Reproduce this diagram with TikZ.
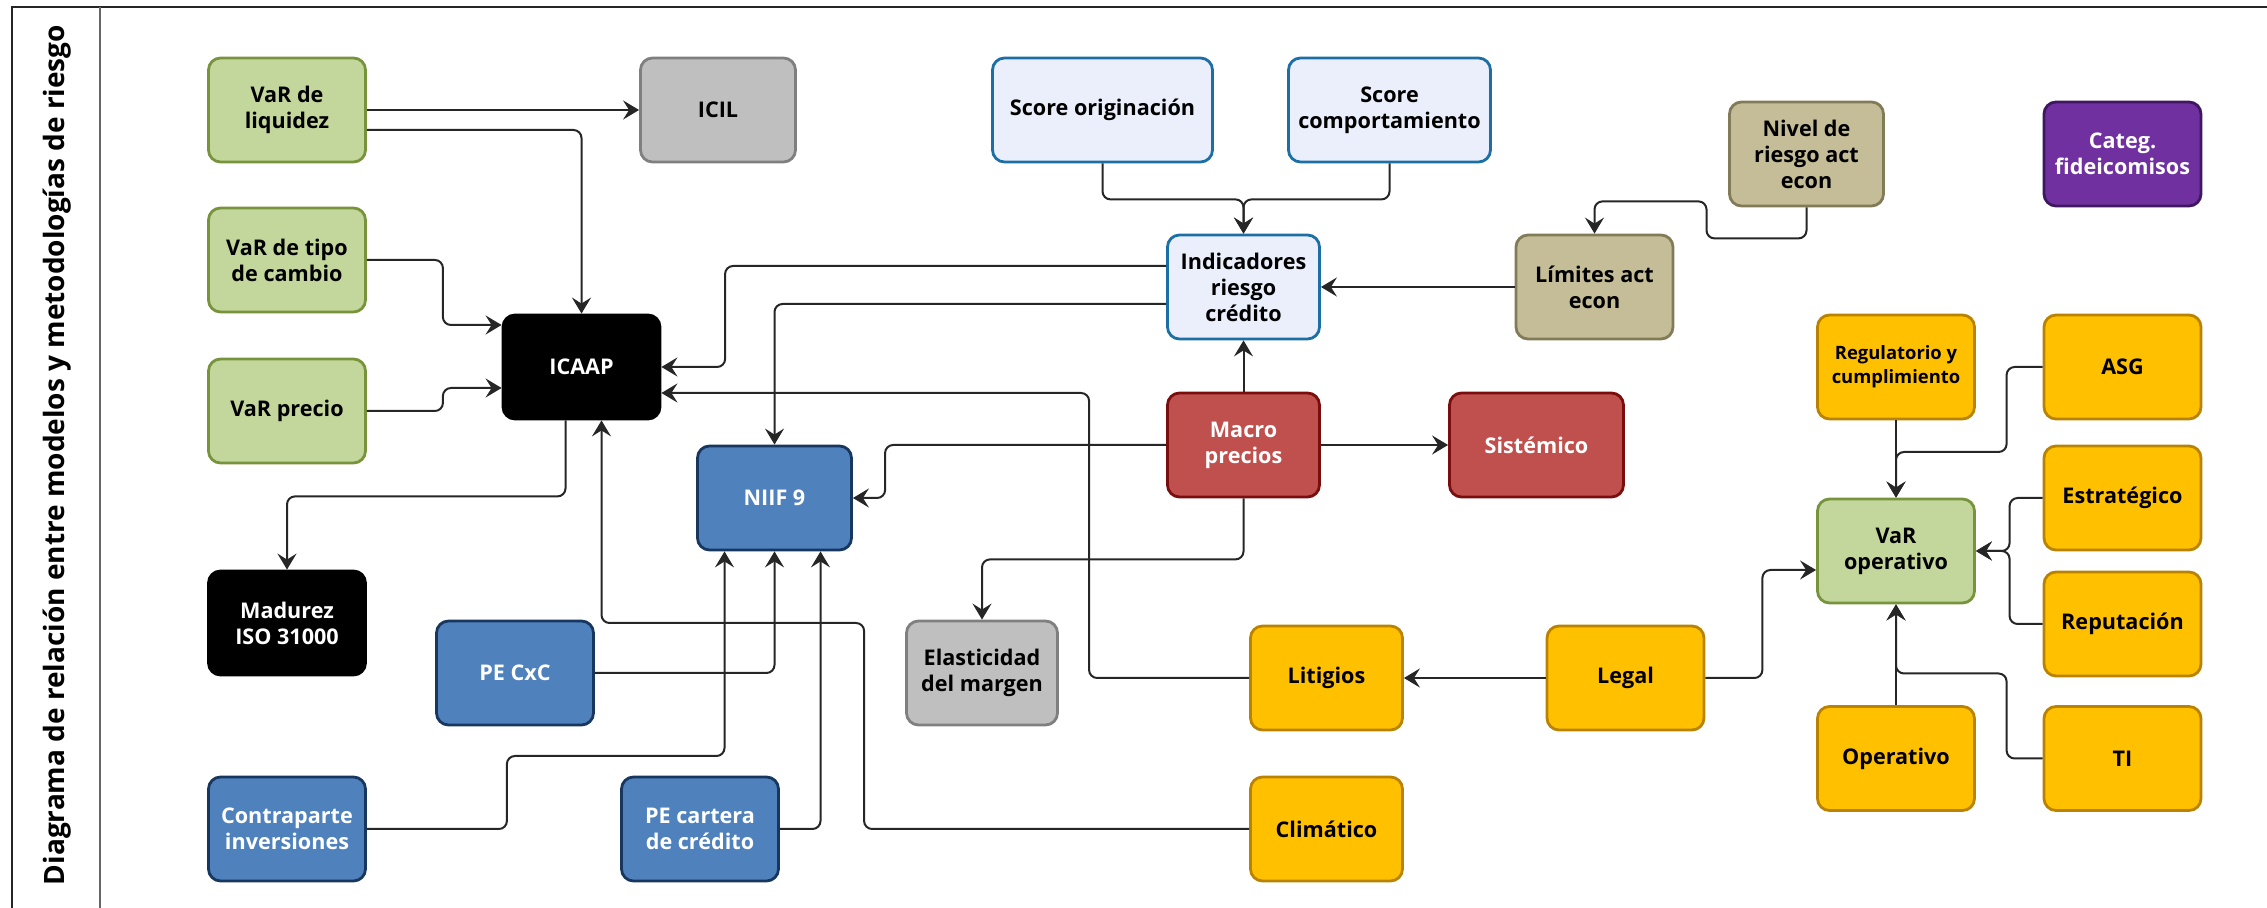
\documentclass[tikz,border=0pt]{standalone}
\usepackage{fontspec}
\setmainfont{Open Sans}
\usetikzlibrary{arrows.meta}
\definecolor{grnfill}{HTML}{C3D69B}
\definecolor{grnline}{HTML}{77933C}
\definecolor{gryfill}{HTML}{BFBFBF}
\definecolor{gryline}{HTML}{7F7F7F}
\definecolor{lblfill}{HTML}{EBEFFC}
\definecolor{lblline}{HTML}{1B6FA4}
\definecolor{tanfill}{HTML}{C4BD97}
\definecolor{tanline}{HTML}{817B58}
\definecolor{purfill}{HTML}{7030A0}
\definecolor{purline}{HTML}{3F1760}
\definecolor{blufill}{HTML}{4F81BD}
\definecolor{bluline}{HTML}{17375E}
\definecolor{redfill}{HTML}{C0504D}
\definecolor{redline}{HTML}{7A0E0E}
\definecolor{yelfill}{HTML}{FFC000}
\definecolor{yelline}{HTML}{B98300}
\tikzstyle{box}=[draw, rounded corners=6pt, line width=1.4pt, minimum width=78.5pt, minimum height=52pt, align=center, inner sep=2pt, font=\bfseries\fontsize{10.8}{13}\selectfont]
\tikzstyle{varbox}=[box, fill=grnfill, draw=grnline]
\tikzstyle{grybox}=[box, fill=gryfill, draw=gryline]
\tikzstyle{blkbox}=[box, fill=black, draw=black, text=white]
\tikzstyle{scorebox}=[box, fill=lblfill, draw=lblline]
\tikzstyle{tanbox}=[box, fill=tanfill, draw=tanline]
\tikzstyle{purbox}=[box, fill=purfill, draw=purline, text=white]
\tikzstyle{niifbox}=[box, fill=blufill, draw=bluline, text=white]
\tikzstyle{macbox}=[box, fill=redfill, draw=redline, text=white]
\tikzstyle{yelbox}=[box, fill=yelfill, draw=yelline]
\tikzstyle{wire}=[-{Stealth[length=8pt, width=9.5pt, inset=3pt]}, line width=1pt, draw=black!85, rounded corners=4pt]

\begin{document}
\begin{tikzpicture}[x=0.5pt, y=-0.5pt]
    \useasboundingbox (0,0) rectangle (2267,908);
    \draw [line width=1pt, black!85] (2267,7) -- (12,7) -- (12,908);
    \draw [line width=1pt, black!60] (100,7) -- (100,908);
    \node [rotate=90, font=\bfseries\fontsize{14}{16}\selectfont] (ttl) at (57,455) {Diagrama de relación entre modelos y metodologías de riesgo};

    % mercado y liquidez
    \node [varbox] (liq) at (287,110) {VaR de\\liquidez};
    \node [grybox, minimum width=77.5pt] (icil) at (718,110) {ICIL};
    \node [varbox] (fx) at (287,260) {VaR de tipo\\de cambio};
    \node [varbox] (prc) at (287,411) {VaR precio};
    \node [blkbox] (icaap) at (581.5,367) {ICAAP};
    \node [blkbox] (mad) at (287,623) {Madurez\\ISO 31000};

    % credito
    \node [niifbox, minimum width=77pt] (niif) at (774.5,498) {NIIF 9};
    \node [niifbox] (pecxc) at (515,673) {PE CxC};
    \node [niifbox] (cont) at (287,829) {Contraparte\\inversiones};
    \node [niifbox] (pecart) at (700,829) {PE cartera\\de crédito};
    \node [scorebox, minimum width=110pt] (so) at (1102.5,110) {Score originación};
    \node [scorebox, minimum width=101pt] (sc) at (1389.5,110) {Score\\comportamiento};
    \node [scorebox, minimum width=76pt] (ind) at (1243.5,287) {Indicadores\\riesgo\\crédito};
    \node [tanbox, minimum width=77pt] (niv) at (1806.5,154) {Nivel de\\riesgo act\\econ};
    \node [tanbox] (lim) at (1594.5,287) {Límites act\\econ};
    \node [purbox] (cat) at (2122.5,154) {Categ.\\fideicomisos};

    % macro
    \node [macbox, minimum width=76pt] (mac) at (1243.5,445) {Macro\\precios};
    \node [macbox, minimum width=87pt] (sis) at (1536.5,445) {Sistémico};
    \node [grybox, minimum width=75.5pt] (elas) at (982,673) {Elasticidad\\del margen};

    % operativo
    \node [yelbox, minimum width=76pt] (lit) at (1326.5,678) {Litigios};
    \node [yelbox, minimum width=76pt] (clim) at (1326.5,829) {Climático};
    \node [yelbox] (leg) at (1625.5,678) {Legal};
    \node [yelbox, font=\bfseries\fontsize{9.2}{12}\selectfont] (reg) at (1896,367) {Regulatorio y\\cumplimiento};
    \node [yelbox] (asg) at (2122.5,367) {ASG};
    \node [yelbox] (est) at (2122.5,498) {Estratégico};
    \node [varbox] (varop) at (1896,551) {VaR\\operativo};
    \node [yelbox] (rep) at (2122.5,624) {Reputación};
    \node [yelbox] (oper) at (1896,758.5) {Operativo};
    \node [yelbox] (ti) at (2122.5,758.5) {TI};

    \draw [wire] (liq.east) -- (icil.west);
    \draw [wire] ([yshift=-10pt]liq.east) -| (icaap.north);
    \draw [wire] (fx.east) -- ++(76,0) |- ([yshift=21pt]icaap.west);
    \draw [wire] (prc.east) -- ++(76,0) |- ([yshift=-10.5pt]icaap.west);
    \draw [wire] ([xshift=-8pt]icaap.south) -- ++(0,76) -| (mad.north);
    \draw [wire] ([yshift=10.5pt]ind.west) -- ++(-441,0) |- (icaap.east);
    \draw [wire] ([yshift=-8.5pt]ind.west) -| (niif.north);
    \draw [wire] (lit.west) -- ++(-160,0) |- ([yshift=-13pt]icaap.east);
    \draw [wire] (clim.west) -- ++(-385,0) -- ++(0,-206) -| ([xshift=10pt]icaap.south);
    \draw [wire] (mac.north) -- (ind.south);
    \draw [wire] (mac.west) -- ++(-281,0) |- (niif.east);
    \draw [wire] (mac.east) -- (sis.west);
    \draw [wire] (mac.south) -- ++(0,61) -| (elas.north);
    \draw [wire] (pecxc.east) -| (niif.south);
    \draw [wire] (cont.east) -- ++(140,0) -- ++(0,-73) -| ([xshift=-25pt]niif.south);
    \draw [wire] (pecart.east) -| ([xshift=23pt]niif.south);
    \draw [wire] (so.south) -- ++(0,36) -| (ind.north);
    \draw [wire] (sc.south) -- ++(0,36) -| (ind.north);
    \draw [wire] (lim.west) -- (ind.east);
    \draw [wire] (niv.south) -- ++(0,31) -- ++(-100,0) -- ++(0,-37) -| (lim.north);
    \draw [wire] (leg.west) -- (lit.east);
    \draw [wire] (leg.east) -- ++(57,0) |- ([yshift=-9.5pt]varop.west);
    \draw [wire] (reg.south) -- (varop.north);
    \draw [wire] (asg.west) -- ++(-36,0) -- ++(0,85) -| (varop.north);
    \draw [wire] (est.west) -- ++(-33,0) |- (varop.east);
    \draw [wire] (rep.west) -- ++(-33,0) |- (varop.east);
    \draw [wire] (oper.north) -- (varop.south);
    \draw [wire] (ti.west) -- ++(-36,0) -- ++(0,-85) -| (varop.south);
\end{tikzpicture}
\end{document}
